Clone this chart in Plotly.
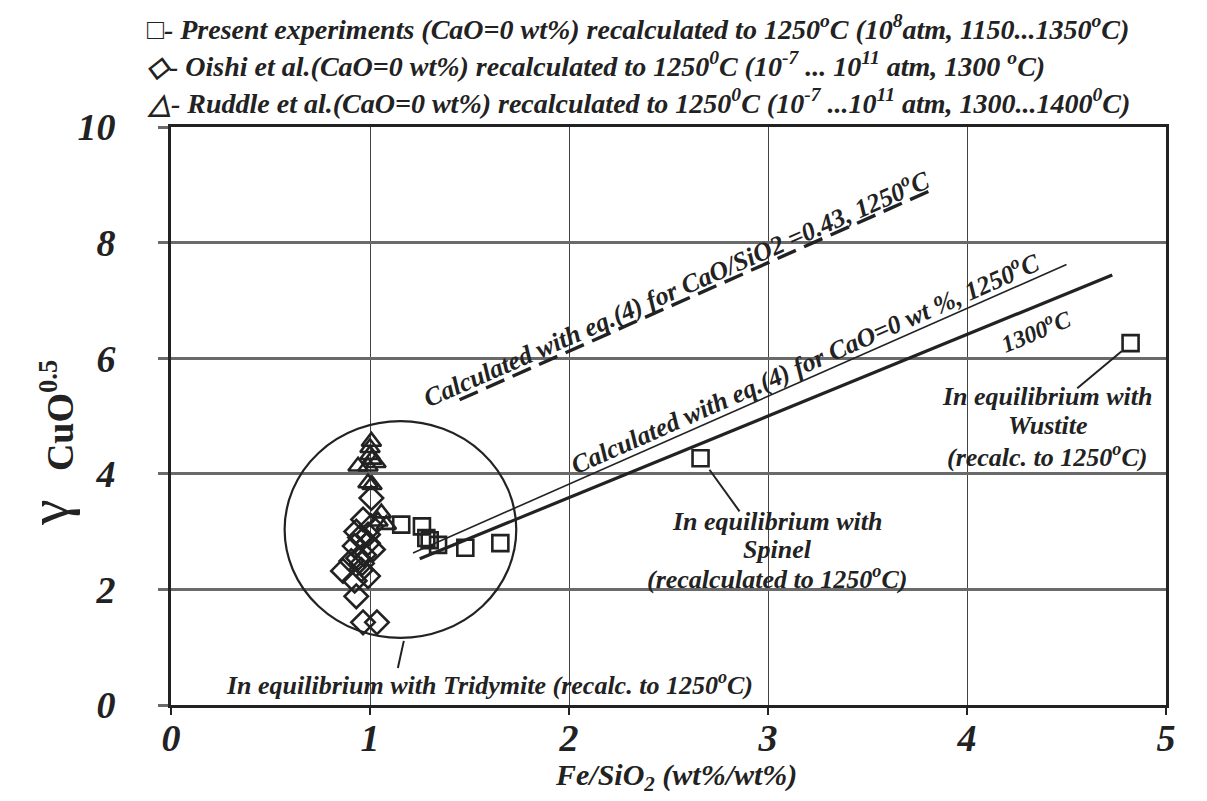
import plotly.graph_objects as go

# ---------------- data ----------------
present_x = [1.157, 1.261, 1.283, 1.300, 1.342, 1.479, 1.655, 2.661, 4.822]
present_y = [3.12, 3.09, 2.89, 2.85, 2.77, 2.72, 2.80, 4.27, 6.26]

oishi_x = [1.007, 0.965, 1.007, 0.931, 0.990, 0.950, 0.990, 0.923, 1.015, 0.970,
           0.940, 0.906, 0.960, 0.956, 0.864, 0.990, 0.923, 0.931, 0.965, 1.035]
oishi_y = [3.58, 3.21, 3.09, 3.00, 2.95, 2.90, 2.80, 2.75, 2.69, 2.60,
           2.54, 2.49, 2.45, 2.34, 2.32, 2.23, 2.15, 1.88, 1.43, 1.43]

ruddle_x = [1.007, 1.000, 1.000, 1.010, 0.940, 0.990, 1.030, 0.990, 1.010, 1.057, 1.082, 1.040]
ruddle_y = [4.56, 4.45, 4.33, 4.25, 4.13, 4.13, 4.19, 3.84, 3.81, 3.32, 3.12, 3.18]

calc_1250_x = [1.216, 4.50]
calc_1250_y = [2.63, 7.62]
calc_1300_x = [1.25, 4.73]
calc_1300_y = [2.53, 7.44]
calc_ca043_x = [1.45, 3.81]
calc_ca043_y = [5.28, 8.89]

circle_x = [0.571, 1.735]
circle_y = [1.16, 4.91]

leader_spinel_x = [2.706, 2.857]
leader_spinel_y = [4.07, 3.35]
leader_wustite_x = [4.777, 4.554]
leader_wustite_y = [6.12, 5.48]
leader_trid_x = [1.17, 1.14]
leader_trid_y = [1.11, 0.64]

x_ticks = [0, 1, 2, 3, 4, 5]
y_ticks = [0, 2, 4, 6, 8, 10]

legend_lines = [
    "\u25a1- Present experiments (CaO=0 wt%) recalculated to 1250<sup>o</sup>C (10<sup>8</sup>atm, 1150...1350<sup>o</sup>C)",
    "\u25c7- Oishi et al.(CaO=0 wt%) recalculated to 1250<sup>0</sup>C (10<sup>-7</sup> ... 10<sup>11</sup> atm, 1300 <sup>o</sup>C)",
    "\u25b3- Ruddle et al.(CaO=0 wt%) recalculated to 1250<sup>0</sup>C (10<sup>-7</sup> ...10<sup>11</sup> atm, 1300...1400<sup>0</sup>C)",
]

INK = "#222222"
SERIF = "Liberation Serif"

fig = go.Figure()

fig.add_trace(go.Scatter(x=calc_ca043_x, y=calc_ca043_y, mode="lines",
                         line=dict(color=INK, width=3.4, dash="20px,9px"),
                         showlegend=False, hoverinfo="skip"))
fig.add_trace(go.Scatter(x=calc_1250_x, y=calc_1250_y, mode="lines",
                         line=dict(color=INK, width=1.6),
                         showlegend=False, hoverinfo="skip"))
fig.add_trace(go.Scatter(x=calc_1300_x, y=calc_1300_y, mode="lines",
                         line=dict(color=INK, width=3.2),
                         showlegend=False, hoverinfo="skip"))

fig.add_trace(go.Scatter(x=oishi_x, y=oishi_y, mode="markers",
                         marker=dict(symbol="diamond-open", size=18, color=INK,
                                     line=dict(width=2.6, color=INK)),
                         showlegend=False))
fig.add_trace(go.Scatter(x=ruddle_x, y=ruddle_y, mode="markers",
                         marker=dict(symbol="triangle-up-open", size=17, color=INK,
                                     line=dict(width=2.6, color=INK)),
                         showlegend=False))
fig.add_trace(go.Scatter(x=present_x, y=present_y, mode="markers",
                         marker=dict(symbol="square-open", size=16, color=INK,
                                     line=dict(width=2.6, color=INK)),
                         showlegend=False))

shapes = [
    dict(type="circle", xref="x", yref="y", x0=circle_x[0], x1=circle_x[1],
         y0=circle_y[0], y1=circle_y[1], line=dict(color=INK, width=2.2)),
]
for lx, ly in [(leader_spinel_x, leader_spinel_y), (leader_wustite_x, leader_wustite_y),
               (leader_trid_x, leader_trid_y)]:
    shapes.append(dict(type="line", xref="x", yref="y", x0=lx[0], x1=lx[1],
                       y0=ly[0], y1=ly[1], line=dict(color=INK, width=2)))

bi = dict(family=SERIF, color=INK, weight="bold", style="italic")

def ann(text, x, y, size, angle=0, xref="x", yref="y", xanchor="center", font=None):
    f = dict(bi) if font is None else dict(font)
    f["size"] = size
    return dict(text=text, x=x, y=y, xref=xref, yref=yref, showarrow=False,
                textangle=angle, xanchor=xanchor, yanchor="middle", font=f)

annotations = [
    ann("Calculated with eq.(4) for CaO/SiO2 =0.43, 1250<sup>o</sup>C", 2.538, 7.23, 26, -23.7),
    ann("Calculated with eq.(4) for CaO=0 wt %, 1250<sup>o</sup>C", 3.181, 5.93, 26, -23.8),
    ann("1300<sup>o</sup>C", 4.342, 6.49, 24, -22.3),
    ann("In equilibrium with", 3.047, 3.18, 26),
    ann("Spinel", 3.047, 2.69, 26),
    ann("(recalculated to 1250<sup>o</sup>C)", 3.047, 2.20, 26),
    ann("In equilibrium with", 4.402, 5.33, 26),
    ann("Wustite", 4.402, 4.83, 26),
    ann("(recalc. to 1250<sup>o</sup>C)", 4.402, 4.31, 26),
    ann("In equilibrium with Tridymite (recalc. to 1250<sup>o</sup>C)", 1.60, 0.38, 26),
    # legend lines
    ann(legend_lines[0], -0.0261, 1.172, 28, xref="paper", yref="paper", xanchor="left"),
    ann(legend_lines[1], -0.0261, 1.108, 28, xref="paper", yref="paper", xanchor="left"),
    ann(legend_lines[2], -0.0261, 1.044, 28, xref="paper", yref="paper", xanchor="left"),
    # axis titles
    ann("\u03b3", -0.1236, 0.332, 58, -90, xref="paper", yref="paper",
        font=dict(family=SERIF, color=INK)),
    ann("CuO<sup>0.5</sup>", -0.1145, 0.50, 38, -90, xref="paper", yref="paper",
        font=dict(family=SERIF, color=INK, weight="bold")),
    ann("Fe/SiO<sub>2</sub> (wt%/wt%)", 0.508, -0.124, 30, xref="paper", yref="paper"),
]

fig.update_layout(
    width=1207, height=801,
    margin=dict(l=163, r=49, t=119, b=104),
    paper_bgcolor="white", plot_bgcolor="white",
    shapes=shapes, annotations=annotations,
    showlegend=False,
)

fig.update_xaxes(range=[0, 5], tickvals=x_ticks, ticktext=[str(v) for v in x_ticks],
                 showgrid=True, gridcolor="#444444", gridwidth=1,
                 zeroline=False, showline=True, linecolor=INK, linewidth=3, mirror=True,
                 ticks="outside", ticklen=7, tickwidth=1.5, tickcolor=INK,
                 ticklabelstandoff=-10,
                 tickfont=dict(family=SERIF, size=38, color=INK, weight="bold", style="italic"))
fig.update_yaxes(range=[0, 10], tickvals=y_ticks, ticktext=[str(v) for v in y_ticks],
                 showgrid=True, gridcolor="#6a6a6a", gridwidth=3,
                 zeroline=False, showline=True, linecolor=INK, linewidth=3, mirror=True,
                 ticks="outside", ticklen=10, tickwidth=3, tickcolor="#6a6a6a",
                 ticklabelstandoff=35,
                 tickfont=dict(family=SERIF, size=38, color=INK, weight="bold", style="italic"))

fig.write_html("out.html")
